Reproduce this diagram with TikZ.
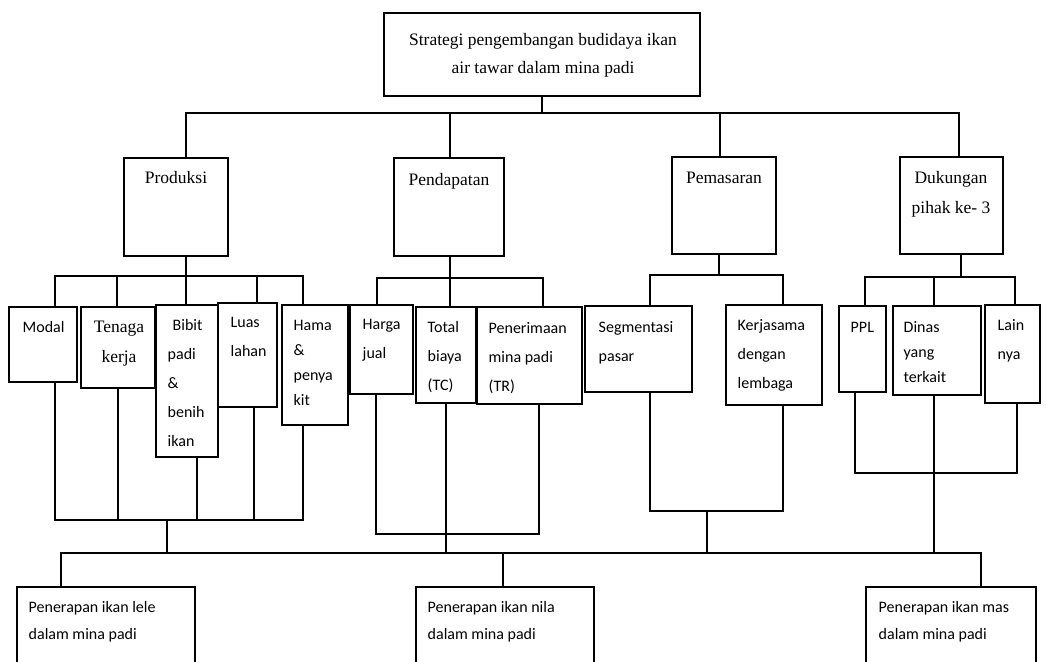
\documentclass[tikz,border=0pt]{standalone}
\usepackage{fontspec}
\setmainfont{Liberation Serif}
\newfontfamily\carl{Carlito}
\newcommand{\mybox}[5]{\node[box, anchor=north west, minimum width={(#4-#2)*1pt}, minimum height={(#5-#3)*1pt}] (#1) at (#2,#3) {};}
\begin{document}
\begin{tikzpicture}[x=1pt,y=-1pt, line width=1.4pt,
  box/.style={draw, inner sep=0pt, outer sep=0pt, line width=1.4pt},
  ser/.style={inner sep=0pt, font=\fontsize{17.5}{28}\selectfont, align=center, anchor=north},
  san/.style={inner sep=0pt, font=\carl\fontsize{16}{29}\selectfont, align=left, anchor=north west},
  sant/.style={san, font=\carl\fontsize{16}{25}\selectfont}]
\clip (0,0) rectangle (1046,661);
\useasboundingbox (0,0) rectangle (1046,661);

% boxes
\mybox{top}{384}{13}{700}{96}
\mybox{prod}{124}{158}{228}{256}
\mybox{pend}{394}{158}{504}{256}
\mybox{pema}{672}{157}{776}{254}
\mybox{duk}{900}{157}{1003}{254}
\mybox{modal}{9}{307}{77}{382}
\mybox{tenaga}{81}{307}{155}{388}
\mybox{bibit}{156}{305}{218}{457}
\mybox{luas}{218}{303}{277}{407}
\mybox{hama}{282}{305}{348}{425}
\mybox{harga}{350}{305}{413}{394}
\mybox{total}{416}{307}{476}{403}
\mybox{pener}{477}{307}{582}{404}
\mybox{segm}{585}{306}{692}{392}
\mybox{kerja}{726}{305}{822}{405}
\mybox{ppl}{839}{306}{886}{392}
\mybox{dinas}{893}{306}{981}{395}
\mybox{lain}{985}{305}{1040}{403}
\mybox{lele}{17}{587}{195}{690}
\mybox{nila}{416}{587}{594}{690}
\mybox{mas}{866}{587}{1036}{690}

% texts
\node[ser] (top-t) at (543,33) {Strategi pengembangan budidaya ikan\\air tawar dalam mina padi};
\node[ser] (prod-t) at (176,171) {Produksi};
\node[ser] (pend-t) at (449,173) {Pendapatan};
\node[ser] (pema-t) at (724,171) {Pemasaran};
\node[ser, font=\fontsize{17.5}{30}\selectfont] (duk-t) at (951,171) {Dukungan\\pihak ke- 3};
\node[ser, font=\fontsize{17.5}{30}\selectfont] (tenaga-t) at (119,320) {Tenaga\\kerja};
\node[san] (modal-t) at (22,321) {Modal};
\node[san] (bibit-t) at (167,319) {\hspace*{5pt}Bibit\\padi\\\&\\benih\\ikan};
\node[san] (luas-t) at (230,317) {Luas\\lahan};
\node[sant] (hama-t) at (293,320) {Hama\\\&\\penya\\kit};
\node[san] (harga-t) at (362,319) {Harga\\jual};
\node[san] (total-t) at (427,321) {Total\\biaya\\(TC)};
\node[san] (pener-t) at (488,322) {Penerimaan\\mina padi\\(TR)};
\node[san] (segm-t) at (598,321) {Segmentasi\\pasar};
\node[san] (kerja-t) at (737,319) {Kerjasama\\dengan\\lembaga};
\node[san] (ppl-t) at (850,322) {PPL};
\node[sant] (dinas-t) at (903,321) {Dinas\\yang\\terkait};
\node[san] (lain-t) at (997,319) {Lain\\nya};
\node[san, font=\carl\fontsize{16}{27}\selectfont] (lele-t) at (28,601) {Penerapan ikan lele\\dalam mina padi};
\node[san, font=\carl\fontsize{16}{27}\selectfont] (nila-t) at (427,601) {Penerapan ikan nila\\dalam mina padi};
\node[san, font=\carl\fontsize{16}{27}\selectfont] (mas-t) at (878,601) {Penerapan ikan mas\\dalam mina padi};

% level 1 connectors
\coordinate (t1) at (186,113); \coordinate (t2) at (450,113);
\coordinate (t3) at (720,113); \coordinate (t4) at (959,113);
\draw (top.south) -- (top.south |- t1);
\draw (prod.north -| t1) -- (t1) -- (t4) -- (duk.north -| t4);
\draw (t2) -- (pend.north -| t2);
\draw (t3) -- (pema.north -| t3);

% Produksi group
\coordinate (pa) at (55,276); \coordinate (pb) at (117,276); \coordinate (pc) at (186,276);
\coordinate (pd) at (257,276); \coordinate (pe) at (303,276);
\draw (prod.south -| pc) -- (pc);
\draw (modal.north -| pa) -- (pa) -- (pe) -- (hama.north -| pe);
\draw (pb) -- (tenaga.north -| pb);
\draw (pc) -- (bibit.north -| pc);
\draw (pd) -- (luas.north -| pd);
\coordinate (qa) at (55,520); \coordinate (qb) at (118,520); \coordinate (qc) at (197,520);
\coordinate (qd) at (254,520); \coordinate (qe) at (303,520); \coordinate (qm) at (167,520);
\draw (modal.south -| qa) -- (qa) -- (qe) -- (hama.south -| qe);
\draw (tenaga.south -| qb) -- (qb);
\draw (bibit.south -| qc) -- (qc);
\draw (luas.south -| qd) -- (qd);

% Pendapatan group
\coordinate (ra) at (377,278); \coordinate (rb) at (450,278); \coordinate (rc) at (543,278);
\draw (pend.south -| rb) -- (rb);
\draw (harga.north -| ra) -- (ra) -- (rc) -- (pener.north -| rc);
\draw (rb) -- (total.north -| rb);
\coordinate (sa) at (376,534); \coordinate (sc) at (539,534);
\draw (harga.south -| sa) -- (sa) -- (sc) -- (pener.south -| sc);

% Pemasaran group
\coordinate (ua) at (650,275); \coordinate (ub) at (719,275); \coordinate (uc) at (783,275);
\draw (pema.south -| ub) -- (ub);
\draw (segm.north -| ua) -- (ua) -- (uc) -- (kerja.north -| uc);
\coordinate (va) at (650,511); \coordinate (vc) at (783,511); \coordinate (vm) at (707,511);
\draw (segm.south -| va) -- (va) -- (vc) -- (kerja.south -| vc);

% Dukungan group
\coordinate (wa) at (865,277); \coordinate (wb) at (934,277); \coordinate (wm) at (961,277); \coordinate (wc) at (1015,277);
\draw (duk.south -| wm) -- (wm);
\draw (ppl.north -| wa) -- (wa) -- (wc) -- (lain.north -| wc);
\draw (wb) -- (dinas.north -| wb);
\coordinate (xa) at (855,473); \coordinate (xc) at (1017,473);
\draw (ppl.south -| xa) -- (xa) -- (xc) -- (lain.south -| xc);

% main bottom bus
\coordinate (m1) at (167,553); \coordinate (m2) at (446,553);
\coordinate (m3) at (707,553); \coordinate (m4) at (934,553);
\coordinate (ma) at (61,553); \coordinate (mb) at (503,553); \coordinate (mc) at (981,553);
\draw (qm) -- (m1);
\draw (total.south -| m2) -- (m2);
\draw (vm) -- (m3);
\draw (dinas.south -| m4) -- (m4);
\draw (lele.north -| ma) -- (ma) -- (mc) -- (mas.north -| mc);
\draw (mb) -- (nila.north -| mb);
\end{tikzpicture}
\end{document}
